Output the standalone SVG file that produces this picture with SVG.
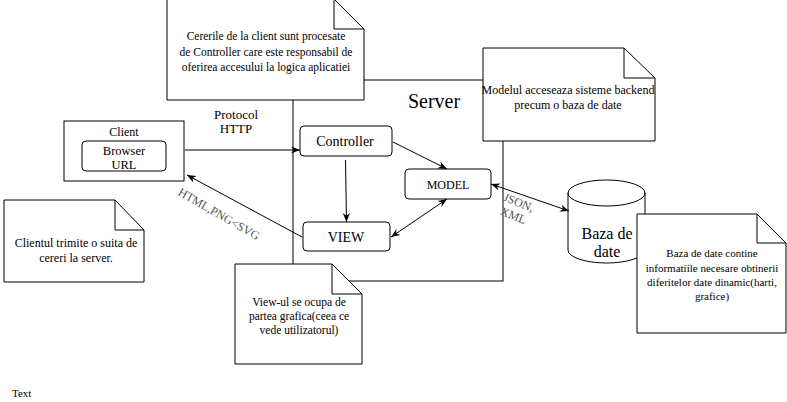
<svg xmlns="http://www.w3.org/2000/svg" width="787" height="402" viewBox="0 0 787 402">
<style>
  .s{fill:none;stroke:#000;stroke-width:1}
  .w{fill:#fff;stroke:#000;stroke-width:1}
  text{font-family:"Liberation Serif","Times New Roman",serif;fill:#000}
  .c{text-anchor:middle}
  .g{fill:#555}
</style>
<defs>
  <marker id="a" viewBox="0 0 10 10" refX="10" refY="5" markerWidth="9" markerHeight="9" markerUnits="userSpaceOnUse" orient="auto-start-reverse">
    <path d="M0,1 L10,5 L0,9 L3,5 z" fill="#000"/>
  </marker>
</defs>
<rect width="787" height="402" fill="#fff"/>

<g id="server">
  <rect x="293" y="80" width="210" height="201" class="w"/>
  <text x="434" y="108" class="c" font-size="20">Server</text>
</g>

<g id="client">
  <rect x="64" y="121" width="120" height="60" class="w"/>
  <text x="124" y="136" class="c" font-size="12">Client</text>
</g>
<g id="browser">
  <rect x="82" y="141" width="84" height="30" rx="4" class="w"/>
  <text x="124" y="155" class="c" font-size="12.5">Browser</text>
  <text x="124" y="169" class="c" font-size="12.5">URL</text>
</g>

<g id="controller">
  <rect x="300" y="126" width="92" height="30" rx="4" class="w"/>
  <text x="345" y="146" class="c" font-size="14">Controller</text>
</g>
<g id="model">
  <rect x="405" y="169" width="86" height="30" rx="4" class="w"/>
  <text x="448" y="189" class="c" font-size="12">MODEL</text>
</g>
<g id="view">
  <rect x="303" y="222" width="87" height="29" rx="4" class="w"/>
  <text x="346" y="242" class="c" font-size="14">VIEW</text>
</g>

<g id="db">
  <path d="M568,193 A38.5,13 0 0 1 645,193 L645,250 A38.5,13 0 0 1 568,250 Z" class="w"/>
  <path d="M568,193 A38.5,13 0 0 0 645,193" class="s"/>
  <text x="607" y="239" class="c" font-size="16">Baza de</text>
  <text x="607" y="257" class="c" font-size="16">date</text>
</g>

<g id="connectors">
  <line x1="185" y1="150" x2="300" y2="150" class="s" marker-end="url(#a)"/>
  <line x1="302" y1="237" x2="187" y2="175" class="s" marker-end="url(#a)"/>
  <line x1="393" y1="142" x2="447" y2="169" class="s" marker-end="url(#a)"/>
  <line x1="345.5" y1="160" x2="346.5" y2="222" class="s" marker-end="url(#a)"/>
  <line x1="447" y1="199" x2="391" y2="237" class="s" marker-start="url(#a)" marker-end="url(#a)"/>
  <line x1="491" y1="184" x2="569" y2="211" class="s" marker-start="url(#a)" marker-end="url(#a)"/>
  <text x="236" y="119" class="c" font-size="13">Protocol</text>
  <text x="236" y="133" class="c" font-size="13">HTTP</text>
  <text transform="translate(219,214) rotate(30)" y="4" class="c g" font-size="12">HTML,PNG&lt;SVG</text>
  <g transform="translate(516,209) rotate(22)">
    <text y="-3" class="c g" font-size="12">JSON,</text>
    <text y="11" class="c g" font-size="12">XML</text>
  </g>
</g>

<g id="note-controller">
  <path d="M167,-1 L334,-1 L364,29 L364,100 L167,100 Z" class="w"/>
  <path d="M334,-1 L334,29 L364,29" class="s"/>
  <text x="266" y="40" class="c" font-size="11.5">Cererile de la client sunt procesate</text>
  <text x="266" y="55.5" class="c" font-size="11.5">de Controller care este responsabil de</text>
  <text x="266" y="71" class="c" font-size="11.5">oferirea accesului la logica aplicatiei</text>
</g>

<g id="note-model">
  <path d="M483,48 L624,48 L655,78 L655,141 L483,141 Z" class="w"/>
  <path d="M624,48 L624,78 L655,78" class="s"/>
  <text x="568" y="94" class="c" font-size="12">Modelul acceseaza sisteme backend</text>
  <text x="568" y="109" class="c" font-size="12">precum o baza de date</text>
</g>

<g id="note-client">
  <path d="M4,200 L115,200 L144,230 L144,282 L4,282 Z" class="w"/>
  <path d="M115,200 L115,230 L144,230" class="s"/>
  <text x="76" y="247" class="c" font-size="12">Clientul trimite o suita de</text>
  <text x="76" y="262" class="c" font-size="12">cereri la server.</text>
</g>

<g id="note-view">
  <path d="M235,264 L332,264 L362,294 L362,364 L235,364 Z" class="w"/>
  <path d="M332,264 L332,294 L362,294" class="s"/>
  <text x="299" y="306" class="c" font-size="11.5">View-ul se ocupa de</text>
  <text x="299" y="320" class="c" font-size="11.5">partea grafica(ceea ce</text>
  <text x="299" y="334" class="c" font-size="11.5">vede utilizatorul)</text>
</g>

<g id="note-db">
  <path d="M637,214 L757,214 L786,243 L786,333 L637,333 Z" class="w"/>
  <path d="M757,214 L757,243 L786,243" class="s"/>
  <text x="712" y="257" class="c" font-size="11">Baza de date contine</text>
  <text x="712" y="272" class="c" font-size="11">informatiile necesare obtinerii</text>
  <text x="712" y="286" class="c" font-size="11">diferitelor date dinamic(harti,</text>
  <text x="712" y="300" class="c" font-size="11">grafice)</text>
</g>

<text x="12" y="397" font-size="11">Text</text>
</svg>
